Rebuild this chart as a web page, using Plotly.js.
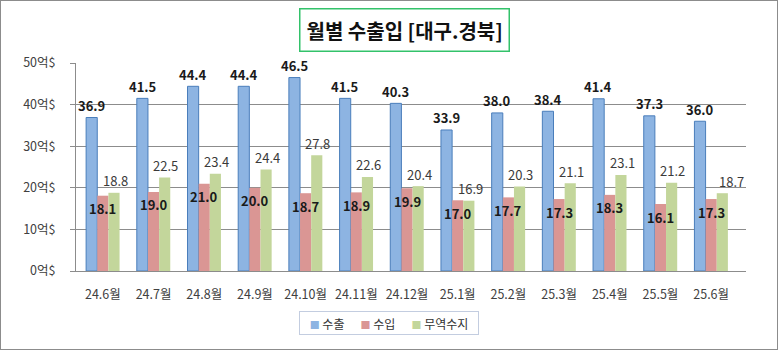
<!DOCTYPE html>
<html>
<head>
<meta charset="utf-8">
<script src="https://cdn.plot.ly/plotly-3.0.1.min.js"></script>
<style>
html,body{margin:0;padding:0;background:#fff;}
#frame{position:absolute;left:0;top:0;width:776px;height:348px;border:1px solid #8c8c8c;overflow:hidden;}
#chart{position:absolute;left:-1px;top:-1px;width:780px;height:352px;}
</style>
</head>
<body>
<div id="frame"><div id="chart"></div></div>
<script>
const categories = ['24.6월','24.7월','24.8월','24.9월','24.10월','24.11월','24.12월','25.1월','25.2월','25.3월','25.4월','25.5월','25.6월'];
const exportVals = [36.9,41.5,44.4,44.4,46.5,41.5,40.3,33.9,38.0,38.4,41.4,37.3,36.0];
const importVals = [18.1,19.0,21.0,20.0,18.7,18.9,19.9,17.0,17.7,17.3,18.3,16.1,17.3];
const balanceVals = [18.8,22.5,23.4,24.4,27.8,22.6,20.4,16.9,20.3,21.1,23.1,21.2,18.7];
const seriesNames = ['수출','수입','무역수지'];
const yTickVals = [0,10,20,30,40,50];
const yTickText = yTickVals.map(v => v + '억$');
const titleText = '월별 수출입 [대구.경북]';

const FONT = '"Noto Sans CJK KR", "Noto Sans", sans-serif';
const colors = ['#8db4e2','#da9694','#c3d69b'];

const traces = [
  {type:'bar', name:seriesNames[0], x:categories, y:exportVals,
   marker:{color:colors[0], line:{color:'#4a7ebb', width:1}}, hoverinfo:'none'},
  {type:'bar', name:seriesNames[1], x:categories, y:importVals,
   marker:{color:colors[1], line:{width:0}}, hoverinfo:'none'},
  {type:'bar', name:seriesNames[2], x:categories, y:balanceVals,
   marker:{color:colors[2], line:{width:0}}, hoverinfo:'none'}
];

const barW = 670/13*0.66/3;
const annotations = [];
categories.forEach((c,i) => {
  annotations.push({x:c, y:exportVals[i], xref:'x', yref:'y', text:exportVals[i].toFixed(1),
    showarrow:false, xshift:-barW, yshift:12, yanchor:'middle',
    font:{family:FONT, size:13, color:'#1a1a1a', weight:'bold'}});
  annotations.push({x:c, y:importVals[i], xref:'x', yref:'y', text:importVals[i].toFixed(1),
    showarrow:false, xshift:0, yshift:-13, yanchor:'middle',
    font:{family:FONT, size:13, color:'#1a1a1a', weight:'bold'}});
  annotations.push({x:c, y:balanceVals[i], xref:'x', yref:'y', text:balanceVals[i].toFixed(1),
    showarrow:false, xshift:barW + (i===categories.length-1 ? 9 : 1), yshift:12, yanchor:'middle',
    font:{family:FONT, size:13, color:'#3a3a3a'}});
});
annotations.push({xref:'paper', yref:'paper', x:(404.5-76)/670, y:(271-29.5)/208, xanchor:'center', yanchor:'middle',
  text:'<b>'+titleText+'</b>', showarrow:false, bordercolor:'#33c26a', borderwidth:1.5, borderpad:6,
  font:{family:FONT, size:20, color:'#111'}});

const legendText = seriesNames.map((n,k) =>
  '<span style="color:'+colors[k]+';font-size:10px">■</span>&nbsp;'+n).join('&nbsp;&nbsp;&nbsp;&nbsp;&nbsp;&nbsp;');
annotations.push({xref:'paper', yref:'paper', x:(389-76)/670, y:-(323-271)/208, xanchor:'center', yanchor:'middle',
  text:legendText, showarrow:false, bordercolor:'#c3cde0', borderwidth:1, borderpad:3,
  width:172, height:16, align:'center',
  font:{family:FONT, size:12, color:'#333'}});

const layout = {
  width:780, height:352,
  margin:{l:76, r:34, t:63, b:81},
  paper_bgcolor:'#fff', plot_bgcolor:'#fff',
  barmode:'group', bargap:0.34, bargroupgap:0,
  showlegend:false,
  xaxis:{type:'category', showgrid:false, showline:true, linecolor:'#8c8c8c', linewidth:1,
    ticks:'', tickfont:{family:FONT, size:12.5, color:'#404040'}, ticklabelstandoff:12, fixedrange:true},
  yaxis:{range:[0,50], tickvals:yTickVals, ticktext:yTickText, showgrid:true, gridcolor:'#8c8c8c', gridwidth:1,
    showline:true, linecolor:'#8c8c8c', linewidth:1, ticks:'outside', ticklen:5, tickcolor:'#8c8c8c',
    tickfont:{family:FONT, size:12.5, color:'#404040'}, ticklabelstandoff:12, zeroline:false, fixedrange:true},
  annotations:annotations,
  font:{family:FONT}
};

Plotly.newPlot('chart', traces, layout, {displayModeBar:false, staticPlot:true});
</script>
</body>
</html>
